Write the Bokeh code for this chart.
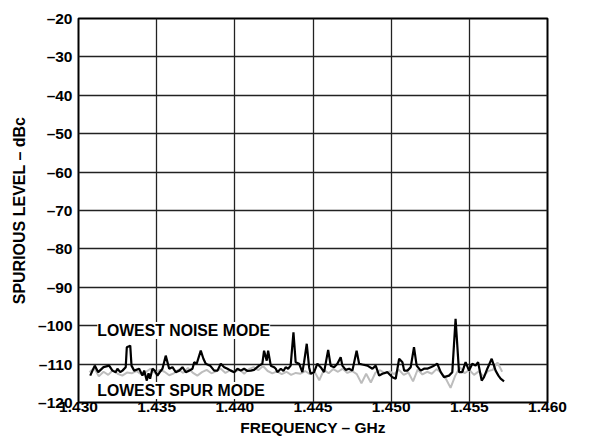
from bokeh.plotting import figure
from bokeh.models import FixedTicker, CustomJSTickFormatter, Label
from bokeh.embed import file_html
from bokeh.resources import INLINE

# ---- data ----
noise_freq = [1.43075, 1.43104, 1.43126, 1.43160, 1.43196, 1.43217, 1.43238, 1.43249, 1.43267, 1.43281,
              1.43302, 1.43309, 1.43331, 1.43339, 1.43356, 1.43388, 1.43409, 1.43420, 1.43437, 1.43448,
              1.43458, 1.43473, 1.43488, 1.43505, 1.43518, 1.43537, 1.43558, 1.43580, 1.43601, 1.43622,
              1.43644, 1.43665, 1.43686, 1.43708, 1.43729, 1.43740, 1.43756, 1.43782, 1.43799, 1.43814,
              1.43842, 1.43868, 1.43889, 1.43910, 1.43932, 1.43953, 1.43974, 1.43996, 1.44017, 1.44038,
              1.44059, 1.44081, 1.44102, 1.44123, 1.44155, 1.44176, 1.44187, 1.44204, 1.44213, 1.44230,
              1.44251, 1.44262, 1.44272, 1.44294, 1.44311, 1.44325, 1.44341, 1.44357, 1.44375, 1.44389,
              1.44411, 1.44432, 1.44443, 1.44460, 1.44475, 1.44485, 1.44507, 1.44528, 1.44549, 1.44571,
              1.44597, 1.44613, 1.44635, 1.44656, 1.44677, 1.44688, 1.44709, 1.44731, 1.44752, 1.44779,
              1.44795, 1.44816, 1.44848, 1.44880, 1.44901, 1.44923, 1.44944, 1.44976, 1.45008, 1.45029,
              1.45051, 1.45072, 1.45083, 1.45104, 1.45125, 1.45146, 1.45163, 1.45189, 1.45210, 1.45231,
              1.45253, 1.45274, 1.45295, 1.45317, 1.45338, 1.45370, 1.45391, 1.45412, 1.45434, 1.45455,
              1.45476, 1.45498, 1.45519, 1.45540, 1.45556, 1.45579, 1.45594, 1.45615, 1.45643, 1.45668,
              1.45686, 1.45700, 1.45722]
noise_level = [-113.0, -110.4, -112.1, -110.8, -110.4, -111.7, -112.1, -111.2, -112.1, -111.7,
               -110.8, -105.6, -105.2, -110.4, -111.7, -111.2, -113.0, -111.7, -114.3, -112.4,
               -113.8, -111.2, -111.7, -113.0, -112.2, -111.2, -107.8, -111.2, -110.8, -112.1,
               -111.7, -110.8, -112.1, -111.7, -111.2, -109.5, -109.9, -106.5, -108.6, -109.9,
               -110.4, -111.7, -111.7, -109.9, -110.8, -111.2, -111.7, -112.1, -111.2, -111.7,
               -111.2, -111.8, -111.7, -111.5, -110.4, -109.9, -106.5, -109.1, -106.5, -110.4,
               -110.8, -111.2, -112.1, -111.2, -111.8, -110.8, -111.2, -110.4, -101.7, -109.5,
               -109.9, -112.1, -109.5, -104.7, -110.8, -112.5, -112.1, -109.9, -110.8, -112.1,
               -106.3, -110.4, -110.8, -109.9, -108.2, -110.4, -111.5, -111.2, -111.7, -106.5,
               -109.9, -110.1, -110.4, -111.2, -110.4, -113.0, -112.5, -112.1, -113.4, -113.8,
               -108.6, -109.5, -111.7, -111.7, -110.8, -105.6, -110.4, -111.7, -111.2, -111.2,
               -110.8, -110.4, -109.9, -112.1, -113.4, -113.0, -112.1, -98.2, -112.1, -112.1,
               -109.5, -111.7, -109.9, -110.4, -109.5, -114.3, -113.4, -111.2, -108.6, -111.7,
               -113.0, -113.8, -114.5]

spur_freq = [1.4307, 1.4310, 1.4313, 1.4316, 1.4319, 1.4322, 1.4325, 1.4328, 1.4331, 1.4334,
             1.4337, 1.4340, 1.4343, 1.4346, 1.4349, 1.4352, 1.4355, 1.4358, 1.4361, 1.4364,
             1.4367, 1.4370, 1.4373, 1.4376, 1.4379, 1.4382, 1.4385, 1.4388, 1.4391, 1.4394,
             1.4397, 1.4400, 1.4403, 1.4406, 1.4409, 1.4412, 1.4415, 1.4418, 1.4421, 1.4424,
             1.4427, 1.4430, 1.4433, 1.4436, 1.4439, 1.4442, 1.4445, 1.4448, 1.4451, 1.4454,
             1.4457, 1.4460, 1.4463, 1.4466, 1.4469, 1.4472, 1.4475, 1.4478, 1.4481, 1.4484,
             1.4487, 1.4490, 1.4493, 1.4496, 1.4499, 1.4502, 1.4505, 1.4508, 1.4511, 1.4514,
             1.4517, 1.4520, 1.4523, 1.4526, 1.4529, 1.4532, 1.4535, 1.4538, 1.4541, 1.4544,
             1.4547, 1.4550, 1.4553, 1.4556, 1.4559, 1.4562, 1.4565, 1.4568, 1.4571]
spur_level = [-112.1, -111.0, -113.2, -112.0, -112.8, -111.6, -112.5, -113.0, -112.2, -112.4,
              -111.8, -112.6, -112.1, -111.2, -112.3, -111.5, -112.0, -112.9, -112.4, -111.4,
              -112.3, -111.0, -112.2, -113.0, -112.1, -111.5, -112.4, -111.9, -111.2, -112.3,
              -111.6, -112.0, -111.4, -112.5, -111.3, -110.8, -111.6, -110.5, -111.8, -112.4,
              -111.9, -112.6, -112.0, -112.8, -112.3, -112.5, -111.8, -112.6, -112.0, -114.2,
              -111.5, -112.4, -111.3, -112.0, -111.2, -112.3, -111.8, -112.6, -115.0, -112.5,
              -114.8, -112.2, -111.6, -112.4, -111.9, -112.6, -111.5, -112.8, -112.2, -114.5,
              -111.4, -112.7, -112.0, -112.5, -111.3, -112.2, -113.8, -116.2, -113.0, -110.8,
              -112.4, -111.5, -112.8, -111.9, -113.2, -111.8, -111.5, -109.6, -112.0]

x_ticks = [1.430, 1.435, 1.440, 1.445, 1.450, 1.455, 1.460]
y_ticks = [-20, -30, -40, -50, -60, -70, -80, -90, -100, -110, -120]

FONT = "Liberation Sans"

p = figure(width=577, height=441, output_backend="svg", toolbar_location=None,
           x_range=(1.430, 1.460), y_range=(-120, -20),
           min_border_left=78, min_border_right=30, min_border_top=18, min_border_bottom=39)

p.outline_line_color = "black"
p.outline_line_width = 2
p.background_fill_color = "white"
p.border_fill_color = "white"

for ax in (p.xaxis[0], p.yaxis[0]):
    ax.axis_line_color = None
    ax.major_tick_line_color = None
    ax.minor_tick_line_color = None
    ax.major_tick_out = 0
    ax.major_tick_in = 0
    ax.minor_tick_out = 0
    ax.minor_tick_in = 0
    ax.major_label_text_font = FONT
    ax.major_label_text_font_style = "bold"
    ax.major_label_text_font_size = "15.5px"
    ax.major_label_text_color = "black"
    ax.axis_label_text_font = FONT
    ax.axis_label_text_font_style = "bold"
    ax.axis_label_text_color = "black"

p.xaxis.ticker = FixedTicker(ticks=x_ticks)
p.yaxis.ticker = FixedTicker(ticks=y_ticks)
p.xaxis.formatter = CustomJSTickFormatter(code="return tick.toFixed(3);")
p.yaxis.formatter = CustomJSTickFormatter(code="return (tick < 0 ? '\u2013' : '') + Math.abs(tick).toFixed(0);")
p.xaxis.major_label_standoff = -1
p.yaxis.major_label_standoff = 6
p.xaxis.axis_label = "FREQUENCY \u2013 GHz"
p.yaxis.axis_label = "SPURIOUS LEVEL \u2013 dBc"
p.xaxis.axis_label_text_font_size = "15.5px"
p.yaxis.axis_label_text_font_size = "16px"
p.xaxis.axis_label_standoff = 4
p.yaxis.axis_label_standoff = 7

p.xgrid.ticker = FixedTicker(ticks=x_ticks)
p.ygrid.ticker = FixedTicker(ticks=y_ticks)
p.grid.grid_line_color = "#222222"
p.grid.grid_line_width = 1.3
p.grid.grid_line_alpha = 1.0

p.line(spur_freq, spur_level, line_color="#bdbdbd", line_width=2)
p.line(noise_freq, noise_level, line_color="black", line_width=2.2)

for txt, yv in (("LOWEST NOISE MODE", -101.25), ("LOWEST SPUR MODE", -116.9)):
    p.add_layout(Label(x=1.4312, y=yv, text=txt, text_font=FONT, text_font_style="bold",
                       text_font_size="15.8px", text_color="black", text_baseline="middle",
                       background_fill_color="white", background_fill_alpha=1.0))

open("out.html", "w").write(file_html(p, INLINE))
